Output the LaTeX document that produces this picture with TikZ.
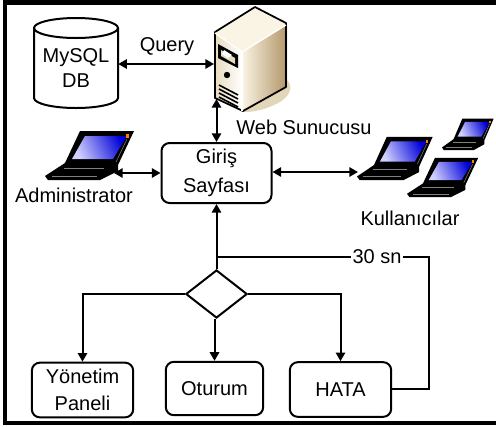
\documentclass[tikz,border=0pt]{standalone}
\usepackage{fontspec}
\setmainfont{Liberation Sans}
\usetikzlibrary{arrows.meta,shapes.geometric}
\definecolor{srvtop}{RGB}{250,244,228}
\definecolor{srvfront}{RGB}{232,220,190}
\definecolor{srvside}{RGB}{178,150,104}
\definecolor{srvshadow}{RGB}{226,214,184}
\newcommand{\drawlaptop}{%
    \fill[black] (80,131) -- (134,131) -- (118,165) -- (118,171) -- (100,180) -- (48,180) -- (45,176) -- (65,163) -- cycle;
    \shade[left color=blue!18!white,right color=blue!85!black,shading angle=115] (85,136) -- (127,136) -- (113,159) -- (72,159) -- cycle;
    \fill[orange] (126,134) rectangle (129,138);
    \draw[gray,line width=.4pt] (127,139) -- (116,162);
    \draw[gray,line width=.4pt] (64,168) -- (104,168) (52,176) -- (97,176);
}
\tikzset{
  x=0.75pt,y=-0.75pt,
  label text/.style={font=\fontsize{15}{18}\selectfont,inner sep=0pt,align=center},
  flowbox/.style={draw,line width=1.5pt,rounded corners=6pt,fill=white,align=center,font=\fontsize{15}{22}\selectfont,inner sep=0pt},
  link/.style={line width=1.5pt,-{Triangle[length=6.5pt,width=7pt]}},
  both/.style={line width=1.5pt,{Triangle[length=6.5pt,width=7pt]}-{Triangle[length=6.5pt,width=7pt]}},
  plain/.style={line width=1.5pt}
}
\begin{document}
\begin{tikzpicture}
\useasboundingbox (0,0) rectangle (496,426);
% frame
\fill[black] (3,0) rectangle (496,5);
\fill[black] (3,0) rectangle (7,425);
\fill[black] (3,421) rectangle (496,425);
% database
\draw[line width=1.5pt,fill=white] (34,28) arc[x radius=42,y radius=10,start angle=180,end angle=360] -- (118,98) arc[x radius=42,y radius=10,start angle=0,end angle=180] -- cycle;
\draw[line width=1.5pt] (34,28) arc[x radius=42,y radius=10,start angle=180,end angle=0];
\node[label text,minimum width=63pt,minimum height=58.5pt,font=\fontsize{15}{19}\selectfont] (db) at (76,68) {MySQL\\DB};
% server
\fill[srvshadow] (287,80) .. controls (294,86) and (290,98) .. (276,104) .. controls (262,111) and (252,112) .. (243,112) -- cycle;
\fill[srvtop] (255,7) -- (287,23) -- (242,52) -- (215,32) -- cycle;
\shade[left color=srvfront,right color=white] (215,32) -- (242,52) -- (242,112) -- (215,98) -- cycle;
\shade[left color=srvtop,right color=srvside] (242,52) -- (287,25) -- (287,87) -- (242,112) -- cycle;
\draw[line width=1.3pt,line join=round] (255,7) -- (286,23) -- (286,87) -- (243,111) -- (215,98) -- (215,32) -- cycle;
\draw[white,line width=1pt] (215,33) -- (242,52) -- (286,25);
\draw[white,line width=1pt] (242,52) -- (242,111);
\fill[black] (218,44) -- (238,55) -- (238,68) -- (218,58) -- cycle;
\fill[srvfront] (221,50) -- (235,58) -- (235,64) -- (221,56) -- cycle;
\fill[white] (224,50) -- (232,55) -- (228,58) -- (222,54) -- cycle;
\fill[black] (227,75) circle (3.2);
\foreach \d in {0,4,8,12}{\draw[black,line width=1.2pt] (219,85+\d) -- (238,95+\d);}
\coordinate (srvw) at (214,64);
\coordinate (srvs) at (216,99);
\node[label text] (websrv) at (304,127) {Web Sunucusu};
% laptops
\drawlaptop
\coordinate (admE) at (114,173);
\node[label text] (admin) at (74,195) {Administrator};
\begin{scope}[shift={(357,180)},xscale=.85,yscale=.88,shift={(-45,-180)}]
\drawlaptop
\end{scope}
\coordinate (usrW) at (358,172);
\begin{scope}[shift={(407,197)},xscale=.8,yscale=.8,shift={(-45,-180)}]
\drawlaptop
\end{scope}
\begin{scope}[shift={(442,150)},xscale=.58,yscale=.64,shift={(-45,-180)}]
\drawlaptop
\end{scope}
\node[label text] (users) at (410,218) {Kullanıcılar};
% boxes
\node[flowbox,minimum width=82.5pt,minimum height=45pt] (giris) at (216.5,173) {Giriş\\Sayfası};
\node[flowbox,minimum width=76pt,minimum height=41pt,font=\fontsize{15}{20.5}\selectfont] (yon) at (82.5,390) {Yönetim\\Paneli};
\node[flowbox,minimum width=73pt,minimum height=40pt] (otr) at (214.5,388.5) {Oturum};
\node[flowbox,minimum width=76pt,minimum height=41pt] (hata) at (340.5,389.5) {HATA};
\node[draw,diamond,line width=1.5pt,fill=white,minimum width=46pt,minimum height=36pt,inner sep=0pt,aspect=1.27] (dec) at (216.5,294) {};
\node[label text,fill=white,inner xsep=1pt] (sn) at (377,257) {30 sn};
\coordinate (j) at (216.5,257);
\coordinate (hr) at (429,257);
\coordinate (hb) at (429,389);
% connectors
\node[label text] (query) at (167,47) {Query};
\draw[both] (db.east |- srvw) -- (srvw);
\draw[both] (srvs -| giris) -- (giris.north);
\draw[both] (admE) -- (giris.west |- admE);
\draw[both] (giris.east |- usrW) -- (usrW);
\draw[link] (dec.north) -- (giris.south);
\draw[plain] (j) -- (sn.west);
\draw[plain] (hata.east |- hb) -- (hb) -- (hr) -- (sn.east);
\draw[link] (dec.west) -| (yon.north);
\draw[link] (dec.south -| otr) -- (otr.north);
\draw[link] (dec.east) -| (hata.north);
\end{tikzpicture}
\end{document}
